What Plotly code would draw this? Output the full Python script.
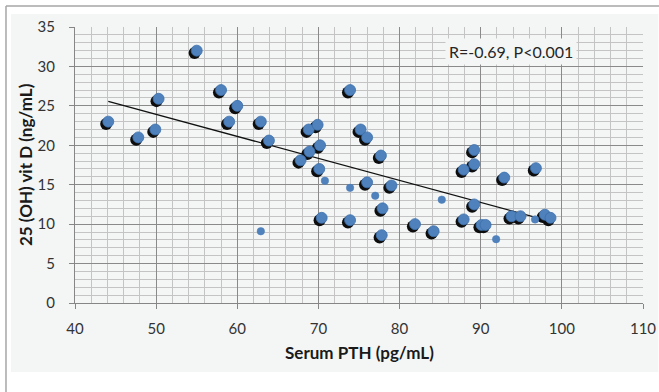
import numpy as np
import plotly.graph_objects as go

# Large (shadowed) markers
pth_big = [44.1, 47.8, 49.9, 50.3, 55.0, 58.0, 59.0, 60.0, 62.9, 63.9, 67.8, 68.9, 68.8, 69.9,
           70.2, 70.1, 73.9, 75.2, 76.0, 77.7, 76.0, 79.0, 77.9, 70.4, 73.9, 77.8, 81.9, 84.2,
           87.9, 89.2, 90.1, 90.6, 87.9, 89.2, 89.2, 92.9, 96.8, 93.8, 94.9, 97.9, 98.6]
vitd_big = [23.0, 21.0, 22.0, 25.9, 32.0, 27.0, 23.0, 25.0, 23.0, 20.6, 18.1, 19.2, 22.0, 22.6,
            20.0, 17.0, 27.0, 22.0, 21.0, 18.7, 15.3, 14.9, 12.0, 10.8, 10.5, 8.6, 10.0, 9.1,
            10.6, 12.5, 9.9, 9.9, 16.9, 17.6, 19.4, 15.9, 17.1, 11.0, 11.0, 11.2, 10.8]
# Small markers
pth_small = [62.9, 70.8, 73.9, 77.0, 85.2, 91.9, 96.7]
vitd_small = [9.1, 15.5, 14.6, 13.6, 13.1, 8.1, 10.6]

x_ticks = [40, 50, 60, 70, 80, 90, 100, 110]
y_ticks = [0, 5, 10, 15, 20, 25, 30, 35]
annotation_text = "R=-0.69, P<0.001"
x_title = "Serum PTH (pg/mL)"
y_title = "25 (OH) vit D (ng/mL)"

X_RANGE = [40, 110]
Y_RANGE = [0, 35]
SHADOW_DX = 0.26   # axis-unit offset for the marker shadow layer
SHADOW_DY = 0.30

all_x = np.array(pth_big + pth_small)
all_y = np.array(vitd_big + vitd_small)
slope, intercept = np.polyfit(all_x, all_y, 1)
line_x = [all_x.min(), all_x.max()]
line_y = [slope * v + intercept for v in line_x]

FONT = "Lato"
BG = "#f4f6f6"
BLUE = "#4f81bd"
TITLE_FONT = dict(family=FONT, size=17, color="#1a1a1a", weight="bold")

fig = go.Figure()

# trendline on main axes; shadow layer on offset axes x2/y2; markers on overlay axes x3/y3
fig.add_trace(go.Scatter(x=line_x, y=line_y, mode="lines",
                         line=dict(color="#111111", width=1.3), showlegend=False))
fig.add_trace(go.Scatter(x=pth_big, y=vitd_big, mode="markers", xaxis="x2", yaxis="y2",
                         marker=dict(size=12, color="#0d0d0d", line=dict(width=0)),
                         hoverinfo="skip", showlegend=False))
fig.add_trace(go.Scatter(x=pth_big, y=vitd_big, mode="markers", xaxis="x3", yaxis="y3",
                         marker=dict(size=11, color=BLUE, line=dict(width=0.8, color="#3c6ea8")),
                         showlegend=False))
fig.add_trace(go.Scatter(x=pth_small, y=vitd_small, mode="markers", xaxis="x3", yaxis="y3",
                         marker=dict(size=7.5, color=BLUE, line=dict(width=0.5, color="#4a7cb6")),
                         showlegend=False))

axis_common = dict(showline=True, linecolor="#868686", linewidth=1,
                   ticks="outside", ticklen=5, tickcolor="#868686",
                   gridcolor="#8a8a8a", gridwidth=1, zeroline=False, automargin=False,
                   tickfont=dict(family=FONT, size=15, color="#333333"))

fig.update_layout(
    width=659, height=392,
    margin=dict(l=75, r=16, t=27, b=89),
    paper_bgcolor="white", plot_bgcolor=BG,
    xaxis=dict(range=X_RANGE, tickvals=x_ticks, ticklabelstandoff=7,
               minor=dict(dtick=2, showgrid=True, gridcolor="#c4c4c4", gridwidth=1),
               **axis_common),
    yaxis=dict(range=Y_RANGE, tickvals=y_ticks, ticklabelstandoff=11,
               minor=dict(dtick=1, showgrid=True, gridcolor="#c4c4c4", gridwidth=1),
               **axis_common),
    xaxis2=dict(range=[X_RANGE[0] + SHADOW_DX, X_RANGE[1] + SHADOW_DX], overlaying="x",
                visible=False),
    yaxis2=dict(range=[Y_RANGE[0] + SHADOW_DY, Y_RANGE[1] + SHADOW_DY], overlaying="y",
                visible=False),
    xaxis3=dict(range=X_RANGE, overlaying="x", visible=False),
    yaxis3=dict(range=Y_RANGE, overlaying="y", visible=False),
    shapes=[
        dict(type="rect", xref="paper", yref="paper", x0=-0.1127, x1=1.027, y0=-0.25, y1=1.047,
             fillcolor=BG, line=dict(width=0), layer="below"),
        dict(type="line", xref="paper", yref="paper", x0=-0.1215, x1=1.03, y0=1.076, y1=1.076,
             line=dict(color="#a6a6a6", width=1.5)),
        dict(type="line", xref="paper", yref="paper", x0=-0.1215, x1=-0.1215, y0=-0.33, y1=1.076,
             line=dict(color="#a6a6a6", width=1.5)),
    ],
    annotations=[
        dict(text=annotation_text, xref="paper", yref="paper", x=0.768, y=0.913,
             xanchor="center", yanchor="middle",
             showarrow=False, bgcolor=BG, borderpad=3,
             font=dict(family=FONT, size=16, color="#262626")),
        dict(text=x_title, xref="paper", yref="paper", x=0.5, y=-0.181,
             xanchor="center", yanchor="middle", showarrow=False, font=TITLE_FONT),
        dict(text=y_title, xref="paper", yref="paper", x=-0.088, y=0.5, textangle=-90,
             xanchor="center", yanchor="middle", showarrow=False, font=TITLE_FONT),
    ],
)

fig.write_html("out.html", config={"displayModeBar": False},
               post_script="document.body.style.margin='0';document.body.style.overflow='hidden';")
